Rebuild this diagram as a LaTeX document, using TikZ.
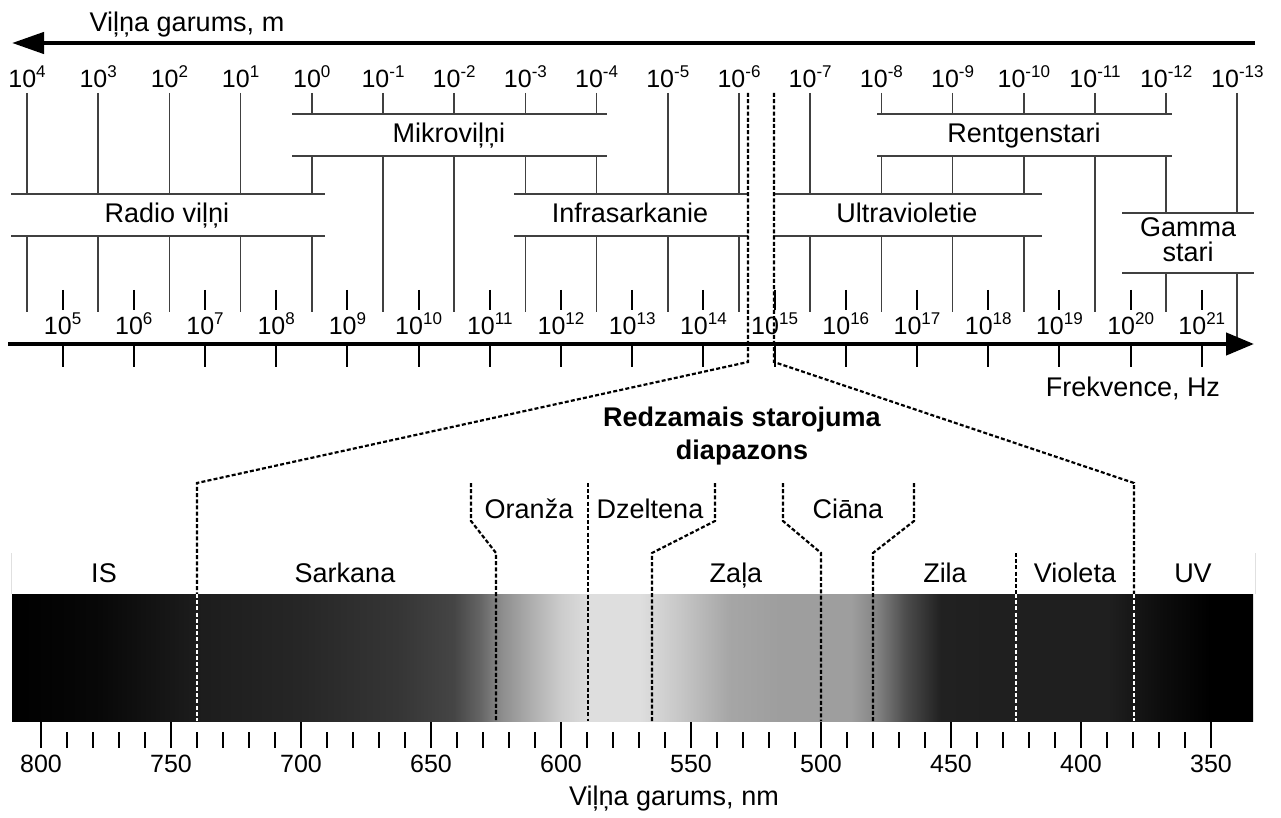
\documentclass[tikz,border=0pt]{standalone}
\usepackage{fontspec}
\setmainfont{Liberation Sans}
\usetikzlibrary{arrows.meta}
\tikzset{
	band/.style={black!75, line width=0.75pt},
	dotline/.style={dash pattern=on 2pt off 1.1pt, line width=1.1pt},
	lbl/.style={font=\fontsize{13.5}{15}\selectfont, inner sep=0pt, anchor=base},
	num/.style={font=\fontsize{12.5}{14}\selectfont, inner sep=0pt, anchor=base}
}
\newcommand{\pw}[1]{10\raisebox{0.8ex}{\fontsize{8.5}{9}\selectfont #1}}
\pgfdeclarehorizontalshading{spectrum}{100bp}{
	color(0bp)=(black); color(25bp)=(black);
	color(28.5bp)=(black!97); color(32.4bp)=(black!89); color(36.6bp)=(black!85);
	color(40.6bp)=(black!79); color(42.8bp)=(black!73); color(43.9bp)=(black!60);
	color(44.7bp)=(black!45); color(45.9bp)=(black!32); color(47.1bp)=(black!20);
	color(48.3bp)=(black!13); color(50.3bp)=(black!13); color(51.9bp)=(black!22);
	color(53.9bp)=(black!35); color(55.9bp)=(black!38); color(58.8bp)=(black!38);
	color(59.8bp)=(black!48); color(61bp)=(black!70); color(62.4bp)=(black!87);
	color(64.8bp)=(black!88); color(69.2bp)=(black!88); color(71.3bp)=(black!95);
	color(73.3bp)=(black); color(75bp)=(black); color(100bp)=(black)}
\begin{document}
\begin{tikzpicture}[x=0.5pt, y=-0.5pt]
	\useasboundingbox (0,0) rectangle (1281,818);

	% Wavelength axis
	\draw[line width=2.2pt, -{Triangle[length=16pt,width=10.5pt]}] (1255,43) -- (12,43);
	\node[lbl] (lamtitle) at (187,32) {Viļņa garums, m};
	\foreach \e [count=\i from 0] in {4,3,...,-13}
		\node[num] (w\i) at ({27+71.2*\i},88) {\pw{\e}};

	% Vertical lines between the bands
	\foreach \i [evaluate=\i as \x using 27+71.2*\i] in {0,1,2,3,9,10,11}
		\draw[band] (\x,93) -- (\x,194) (\x,236) -- (\x,312);
	\foreach \i [evaluate=\i as \x using 27+71.2*\i] in {4,7,8,12,13,14}
		\draw[band] (\x,93) -- (\x,114) (\x,156) -- (\x,194) (\x,236) -- (\x,312);
	\foreach \i [evaluate=\i as \x using 27+71.2*\i] in {5,6,15}
		\draw[band] (\x,93) -- (\x,114) (\x,156) -- (\x,312);
	\draw[band] (1166,93) -- (1166,114) (1166,156) -- (1166,213) (1166,273) -- (1166,312);
	\draw[band] (1237,93) -- (1237,213) (1237,273) -- (1237,344);

	% Bands
	\draw[band] (292,114) -- (607,114) (292,156) -- (607,156);
	\node[lbl] (mikro) at (449,143) {Mikroviļņi};
	\draw[band] (877,114) -- (1172,114) (877,156) -- (1172,156);
	\node[lbl] (rentgen) at (1024,143) {Rentgenstari};
	\draw[band] (11,194) -- (325,194) (11,236) -- (325,236);
	\node[lbl] (radio) at (167,223) {Radio viļņi};
	\draw[band] (514,194) -- (748,194) (514,236) -- (748,236);
	\node[lbl] (infra) at (630,223) {Infrasarkanie};
	\draw[band] (773,194) -- (1042,194) (773,236) -- (1042,236);
	\node[lbl] (ultra) at (907,223) {Ultravioletie};
	\draw[band] (1122,213) -- (1254,213) (1122,273) -- (1254,273);
	\node[lbl] (gamma) at (1188,237) {Gamma};
	\node[lbl] (gstari) at (1188,262) {stari};

	% Frequency axis
	\draw[line width=2.2pt, -{Triangle[length=14pt,width=11pt]}] (8,344) -- (1254,344);
	\foreach \e [evaluate=\e as \x using 62.6+71.2*(\e-5)] in {5,...,21} {
		\draw[line width=1pt] (\x,290) -- (\x,310) (\x,344) -- (\x,367);
		\node[num] (f\e) at (\x,335) {\pw{\e}};
	}
	\node[lbl] (freqlbl) at (1133,397) {Frekvence, Hz};

	% Zoom to the visible range
	\coordinate (zl) at (748,93);
	\coordinate (zr) at (774,93);
	\coordinate (kl) at (748,362);
	\coordinate (kr) at (774,362);
	\coordinate (cl) at (197,483);
	\coordinate (cr) at (1134,483);
	\node[lbl, font=\fontsize{13.5}{15}\bfseries] (vis1) at (742,427) {Redzamais starojuma};
	\node[lbl, font=\fontsize{13.5}{15}\bfseries] (vis2) at (742,459) {diapazons};

	% Spectrum
	\draw[black!12] (11,553) -- (11,594) (1255,553) -- (1255,594);
	\shade[shading=spectrum] (12,594) rectangle (1253,721);
	\draw[dotline] (zl) -- (kl) -- (cl) -- (197,594);
	\draw[dotline] (zr) -- (kr) -- (cr) -- (1134,594);
	\draw[dotline, white] (197,594) -- (197,721) (1134,594) -- (1134,721);
	\draw[dotline] (471,483) -- (471,521) -- (496,553) -- (496,721);
	\draw[dotline] (588,483) -- (588,721);
	\draw[dotline] (715,483) -- (715,521) -- (652,553) -- (652,721);
	\draw[dotline] (783,483) -- (783,521) -- (821,553) -- (821,721);
	\draw[dotline] (914,483) -- (914,521) -- (873,553) -- (873,721);
	\draw[dotline] (1016,553) -- (1016,594);
	\draw[dotline, white] (1016,594) -- (1016,721);

	% Colour names
	\node[lbl] (oranza) at (529,518) {Oranža};
	\node[lbl] (dzeltena) at (650,518) {Dzeltena};
	\node[lbl] (ciana) at (848,518) {Ciāna};
	\node[lbl] (is) at (104,582) {IS};
	\node[lbl] (sarkana) at (345,582) {Sarkana};
	\node[lbl] (zala) at (736,582) {Zaļa};
	\node[lbl] (zila) at (945,582) {Zila};
	\node[lbl] (violeta) at (1075,582) {Violeta};
	\node[lbl] (uv) at (1193,582) {UV};

	% Scale in nm
	\foreach \n [evaluate=\n as \x using 41+(800-\n)*2.6] in {350,360,...,800}
		\draw[line width=0.9pt] (\x,732) -- (\x,748);
	\foreach \n [evaluate=\n as \x using 41+(800-\n)*2.6] in {350,400,...,800} {
		\draw[line width=1.1pt] (\x,722) -- (\x,748);
		\node[num] (nm\n) at (\x,772) {\n};
	}
	\node[lbl] (nmlbl) at (674,805) {Viļņa garums, nm};
\end{tikzpicture}
\end{document}
